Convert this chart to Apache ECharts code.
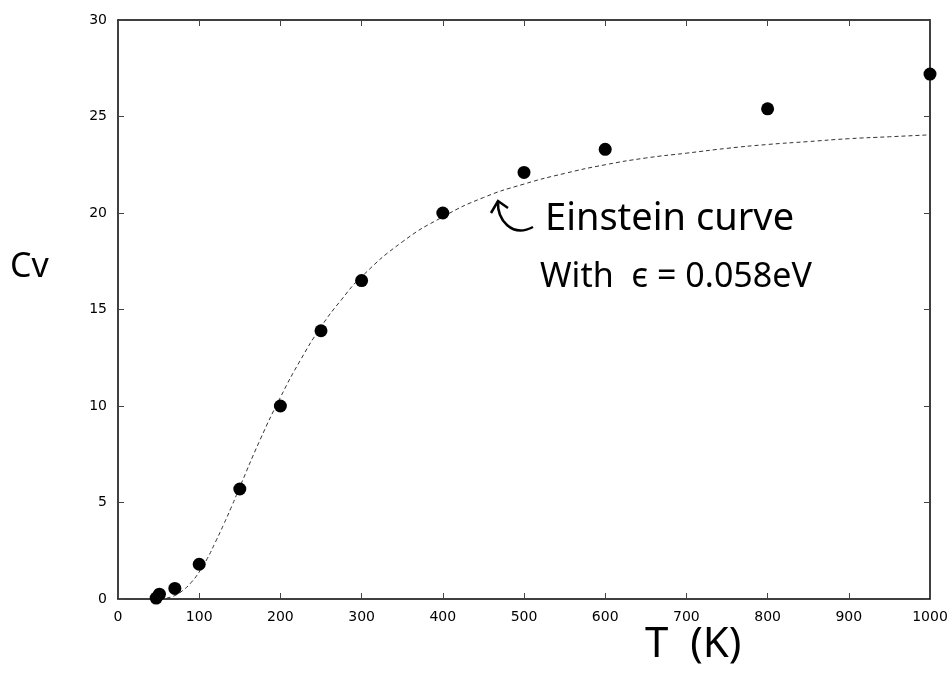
<!DOCTYPE html>
<html>
<head>
<meta charset="utf-8">
<script src="https://cdn.jsdelivr.net/npm/echarts@6/dist/echarts.min.js"></script>
<style>
html,body{margin:0;padding:0;background:#fff;}
#chart{width:952px;height:690px;}
</style>
</head>
<body>
<div id="chart"></div>
<script>
// Measured points
var measT  = [47, 51, 70, 100, 150, 200, 250, 300, 400, 500, 600, 800, 1000];
var measCv = [0.05, 0.25, 0.55, 1.8, 5.7, 10.0, 13.9, 16.5, 20.0, 22.1, 23.3, 25.4, 27.2];

// Einstein curve
var curveT  = [60, 70, 80, 90, 100, 110, 120, 130, 140, 150, 175, 200, 225, 250, 275, 300, 350, 400, 450, 500, 550, 600, 650, 700, 750, 800, 850, 900, 950, 1000];
var curveCv = [0.05, 0.18, 0.45, 0.85, 1.4, 2.1, 2.95, 3.85, 4.8, 5.8, 8.25, 10.45, 12.4, 14.1, 15.5, 16.7, 18.5, 19.8, 20.8, 21.5, 22.05, 22.5, 22.85, 23.1, 23.35, 23.55, 23.7, 23.85, 23.95, 24.05];

var xTicks = [0, 100, 200, 300, 400, 500, 600, 700, 800, 900, 1000];
var yTicks = [0, 5, 10, 15, 20, 25, 30];

function pairs(a, b) { return a.map(function (v, i) { return [v, b[i]]; }); }

var chart = echarts.init(document.getElementById('chart'));
var labelFont = 'DejaVu Sans, Liberation Sans, Arial, sans-serif';
var handFont = 'Noto Sans, DejaVu Sans, sans-serif';

var axisLine = { show: true, onZero: false, lineStyle: { color: '#000', width: 1.5 } };
var axisTick = { show: true, inside: true, length: 6, lineStyle: { color: '#444', width: 1 } };
var plain = function (v) { return String(v); };

chart.setOption({
  animation: false,
  backgroundColor: '#fff',
  grid: { left: 118, right: 22, top: 20, bottom: 91, containLabel: false },
  xAxis: [{
    type: 'value', min: xTicks[0], max: xTicks[xTicks.length - 1], interval: 100,
    axisLine: axisLine, axisTick: axisTick, splitLine: { show: false },
    axisLabel: { fontSize: 14, color: '#000', fontFamily: labelFont, margin: 11, formatter: plain }
  }, {
    type: 'value', position: 'top', min: 0, max: 1000, interval: 100,
    axisLine: axisLine, axisTick: axisTick, splitLine: { show: false },
    axisLabel: { show: false }
  }],
  yAxis: [{
    type: 'value', min: yTicks[0], max: yTicks[yTicks.length - 1], interval: 5,
    axisLine: axisLine, axisTick: axisTick, splitLine: { show: false },
    axisLabel: { fontSize: 14, color: '#000', fontFamily: labelFont, margin: 11, formatter: plain }
  }, {
    type: 'value', position: 'right', min: 0, max: 30, interval: 5,
    axisLine: axisLine, axisTick: axisTick, splitLine: { show: false },
    axisLabel: { show: false }
  }],
  series: [{
    type: 'line',
    data: pairs(curveT, curveCv),
    smooth: true,
    showSymbol: false,
    lineStyle: { color: '#333', width: 1, type: [4, 3] },
    z: 2
  }, {
    type: 'scatter',
    data: pairs(measT, measCv),
    symbol: 'circle',
    symbolSize: 13,
    itemStyle: { color: '#000', opacity: 1 },
    z: 3
  }],
  graphic: [
    { type: 'text', x: 10, y: 250, style: { text: 'Cv', fontSize: 34, fontFamily: handFont, fill: '#000' } },
    { type: 'text', x: 645, y: 624, style: { text: 'T  (K)', fontSize: 42, fontFamily: handFont, fill: '#000' } },
    { type: 'text', x: 545, y: 200, style: { text: 'Einstein curve', fontSize: 38, fontFamily: handFont, fill: '#000' } },
    { type: 'text', x: 540, y: 260, style: { text: 'With  \u03f5 = 0.058eV', fontSize: 34, fontFamily: handFont, fill: '#000' } },
    { type: 'bezierCurve', shape: { x1: 533, y1: 227, cpx1: 512, cpy1: 238, cpx2: 497, cpy2: 220, x2: 498, y2: 201 },
      style: { stroke: '#000', lineWidth: 2.5, fill: null } },
    { type: 'polyline', shape: { points: [[491, 213], [498, 201], [508, 208]] },
      style: { stroke: '#000', lineWidth: 2.5, fill: null } }
  ]
});
</script>
</body>
</html>
